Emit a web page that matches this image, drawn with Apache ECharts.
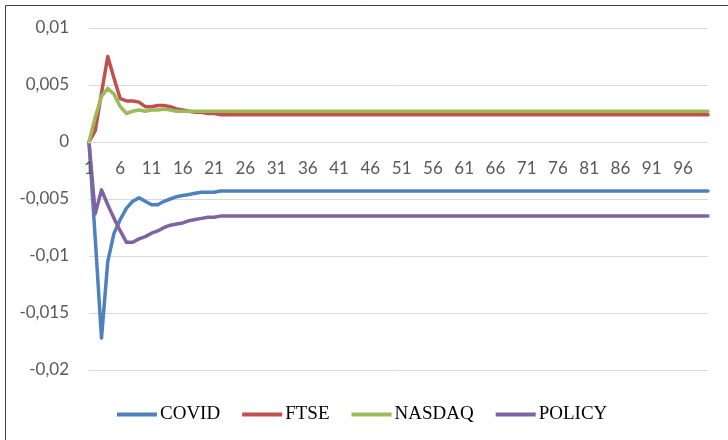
<!DOCTYPE html>
<html>
<head>
<meta charset="utf-8">
<script src="https://cdn.jsdelivr.net/npm/echarts@6/dist/echarts.min.js"></script>
<style>html,body{margin:0;padding:0;background:#fff;}#c{width:728px;height:440px;}</style>
</head>
<body>
<div id="c"></div>
<script>
var categories = [];
for (var k = 1; k <= 100; k++) categories.push(String(k));

var covid = [0, -0.0085, -0.0172, -0.0105, -0.0080, -0.0068, -0.0058, -0.0052, -0.0049, -0.0052,
  -0.0055, -0.0055, -0.0052, -0.0050, -0.0048, -0.0047, -0.0046, -0.0045, -0.0044, -0.0044,
  -0.0044, -0.0043, -0.0043, -0.0043, -0.0043, -0.0043, -0.0043, -0.0043, -0.0043, -0.0043,
  -0.0043, -0.0043, -0.0043, -0.0043, -0.0043, -0.0043, -0.0043, -0.0043, -0.0043, -0.0043,
  -0.0043, -0.0043, -0.0043, -0.0043, -0.0043, -0.0043, -0.0043, -0.0043, -0.0043, -0.0043,
  -0.0043, -0.0043, -0.0043, -0.0043, -0.0043, -0.0043, -0.0043, -0.0043, -0.0043, -0.0043,
  -0.0043, -0.0043, -0.0043, -0.0043, -0.0043, -0.0043, -0.0043, -0.0043, -0.0043, -0.0043,
  -0.0043, -0.0043, -0.0043, -0.0043, -0.0043, -0.0043, -0.0043, -0.0043, -0.0043, -0.0043,
  -0.0043, -0.0043, -0.0043, -0.0043, -0.0043, -0.0043, -0.0043, -0.0043, -0.0043, -0.0043,
  -0.0043, -0.0043, -0.0043, -0.0043, -0.0043, -0.0043, -0.0043, -0.0043, -0.0043, -0.0043];

var ftse = [0, 0.0010, 0.0043, 0.0075, 0.0056, 0.0038, 0.0036, 0.0036, 0.0035, 0.0031,
  0.0031, 0.0032, 0.0032, 0.0031, 0.0029, 0.0028, 0.0027, 0.0026, 0.0026, 0.0025,
  0.0025, 0.0024, 0.0024, 0.0024, 0.0024, 0.0024, 0.0024, 0.0024, 0.0024, 0.0024,
  0.0024, 0.0024, 0.0024, 0.0024, 0.0024, 0.0024, 0.0024, 0.0024, 0.0024, 0.0024,
  0.0024, 0.0024, 0.0024, 0.0024, 0.0024, 0.0024, 0.0024, 0.0024, 0.0024, 0.0024,
  0.0024, 0.0024, 0.0024, 0.0024, 0.0024, 0.0024, 0.0024, 0.0024, 0.0024, 0.0024,
  0.0024, 0.0024, 0.0024, 0.0024, 0.0024, 0.0024, 0.0024, 0.0024, 0.0024, 0.0024,
  0.0024, 0.0024, 0.0024, 0.0024, 0.0024, 0.0024, 0.0024, 0.0024, 0.0024, 0.0024,
  0.0024, 0.0024, 0.0024, 0.0024, 0.0024, 0.0024, 0.0024, 0.0024, 0.0024, 0.0024,
  0.0024, 0.0024, 0.0024, 0.0024, 0.0024, 0.0024, 0.0024, 0.0024, 0.0024, 0.0024];

var nasdaq = [0, 0.0022, 0.0040, 0.0047, 0.0042, 0.0031, 0.0025, 0.0027, 0.0028, 0.0027,
  0.0028, 0.0028, 0.0029, 0.0028, 0.0027, 0.0027, 0.0027, 0.0027, 0.0027, 0.0027,
  0.0027, 0.0027, 0.0027, 0.0027, 0.0027, 0.0027, 0.0027, 0.0027, 0.0027, 0.0027,
  0.0027, 0.0027, 0.0027, 0.0027, 0.0027, 0.0027, 0.0027, 0.0027, 0.0027, 0.0027,
  0.0027, 0.0027, 0.0027, 0.0027, 0.0027, 0.0027, 0.0027, 0.0027, 0.0027, 0.0027,
  0.0027, 0.0027, 0.0027, 0.0027, 0.0027, 0.0027, 0.0027, 0.0027, 0.0027, 0.0027,
  0.0027, 0.0027, 0.0027, 0.0027, 0.0027, 0.0027, 0.0027, 0.0027, 0.0027, 0.0027,
  0.0027, 0.0027, 0.0027, 0.0027, 0.0027, 0.0027, 0.0027, 0.0027, 0.0027, 0.0027,
  0.0027, 0.0027, 0.0027, 0.0027, 0.0027, 0.0027, 0.0027, 0.0027, 0.0027, 0.0027,
  0.0027, 0.0027, 0.0027, 0.0027, 0.0027, 0.0027, 0.0027, 0.0027, 0.0027, 0.0027];

var policy = [0, -0.0063, -0.0042, -0.0055, -0.0067, -0.0078, -0.0088, -0.0088, -0.0085, -0.0083,
  -0.0080, -0.0078, -0.0075, -0.0073, -0.0072, -0.0071, -0.0069, -0.0068, -0.0067, -0.0066,
  -0.0066, -0.0065, -0.0065, -0.0065, -0.0065, -0.0065, -0.0065, -0.0065, -0.0065, -0.0065,
  -0.0065, -0.0065, -0.0065, -0.0065, -0.0065, -0.0065, -0.0065, -0.0065, -0.0065, -0.0065,
  -0.0065, -0.0065, -0.0065, -0.0065, -0.0065, -0.0065, -0.0065, -0.0065, -0.0065, -0.0065,
  -0.0065, -0.0065, -0.0065, -0.0065, -0.0065, -0.0065, -0.0065, -0.0065, -0.0065, -0.0065,
  -0.0065, -0.0065, -0.0065, -0.0065, -0.0065, -0.0065, -0.0065, -0.0065, -0.0065, -0.0065,
  -0.0065, -0.0065, -0.0065, -0.0065, -0.0065, -0.0065, -0.0065, -0.0065, -0.0065, -0.0065,
  -0.0065, -0.0065, -0.0065, -0.0065, -0.0065, -0.0065, -0.0065, -0.0065, -0.0065, -0.0065,
  -0.0065, -0.0065, -0.0065, -0.0065, -0.0065, -0.0065, -0.0065, -0.0065, -0.0065, -0.0065];

var seriesNames = ['COVID', 'FTSE', 'NASDAQ', 'POLICY'];
var seriesData = [covid, ftse, nasdaq, policy];
var colors = ['#4F81BD', '#C0504D', '#9BBB59', '#8064A2'];

var gridBottom = 70;
var chart = echarts.init(document.getElementById('c'), null, {renderer: 'canvas'});
var series = seriesNames.map(function (n, i) {
  return {
    name: n, type: 'line', data: seriesData[i], symbol: 'none', smooth: false,
    lineStyle: {width: 3.5, color: colors[i], cap: 'round', join: 'round'},
    itemStyle: {color: colors[i]}, z: 3 + (i === 2 ? 1 : 0)
  };
});
chart.setOption({
  animation: false,
  backgroundColor: '#ffffff',
  color: colors,
  grid: {left: 89, right: 20, top: 28, bottom: gridBottom, containLabel: false},
  legend: {
    data: seriesNames, bottom: 11, left: 112, icon: 'rect', itemWidth: 40, itemHeight: 4, itemGap: 22,
    textStyle: {fontFamily: 'Liberation Serif', fontSize: 19, color: '#000', padding: [0, 0, 0, -2]}
  },
  xAxis: {
    type: 'category', data: categories, boundaryGap: false, position: 'bottom', zlevel: 1, z: 10,
    axisLine: {onZero: false, lineStyle: {color: '#D9D9D9', width: 1}},
    axisTick: {show: false},
    axisLabel: {interval: 4, margin: 18, fontFamily: 'Lato', fontSize: 17, color: '#595959'},
    splitLine: {show: false}
  },
  yAxis: {
    type: 'value', min: -0.02, max: 0.01, interval: 0.005,
    axisLine: {show: false}, axisTick: {show: false},
    axisLabel: {margin: 20, fontFamily: 'Lato', fontSize: 17, color: '#595959',
      formatter: function (v) { return String(Math.round(v * 1000) / 1000).replace('.', ','); }},
    splitLine: {lineStyle: {color: '#D9D9D9', width: 1}}
  },
  graphic: [
    {type: 'line', shape: {x1: 5.5, y1: 5.5, x2: 728, y2: 5.5}, style: {stroke: '#404040', lineWidth: 1}},
    {type: 'line', shape: {x1: 5.5, y1: 5.5, x2: 5.5, y2: 440}, style: {stroke: '#404040', lineWidth: 1}}
  ],
  series: series
});
// move the category axis (and its labels) up to the value-axis zero line
var zeroY = chart.convertToPixel({yAxisIndex: 0}, 0);
var bottomY = chart.getHeight() - gridBottom;
chart.setOption({xAxis: {offset: -(bottomY - zeroY)}});
</script>
</body>
</html>
